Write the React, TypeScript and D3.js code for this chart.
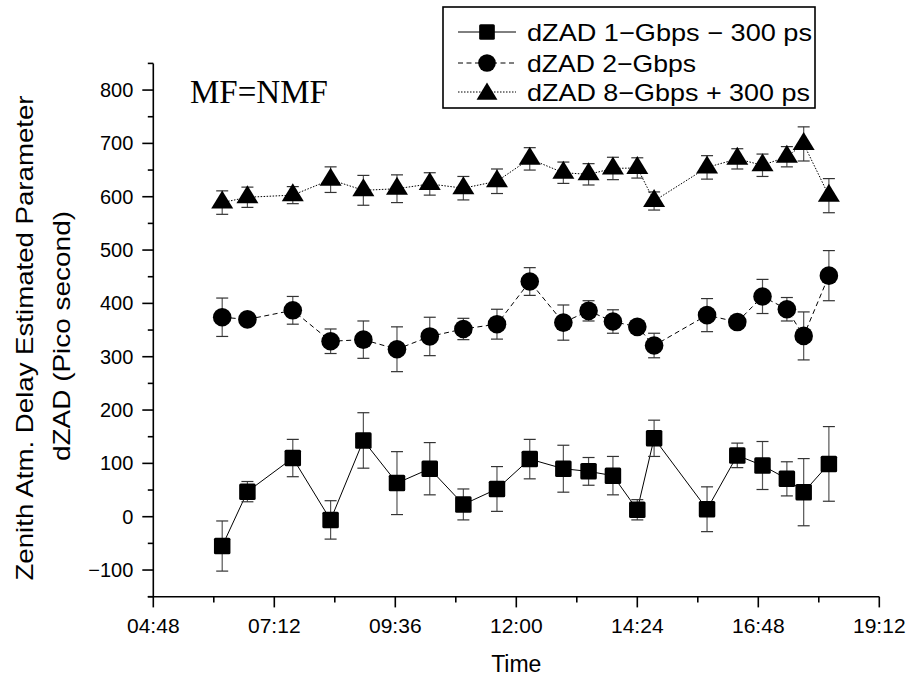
import React from "react";
import * as d3 from "d3";

// ---- Data ----
const times = ["06:10","06:40","07:34","08:19","08:58","09:38","10:17","10:57","11:37","12:16","12:56","13:26","13:55","14:24","14:44","15:47","16:23","16:53","17:22","17:42","18:12"];
const s1Values = [-55, 47, 110, -6, 143, 63, 90, 23, 52, 108, 90, 85, 77, 13, 147, 14, 115, 96, 71, 46, 99];
const s1Errors = [47, 19, 35, 36, 52, 59, 49, 29, 42, 37, 44, 26, 36, 19, 34, 42, 23, 45, 32, 63, 70];
const s2Values = [374, 370, 387, 329, 332, 314, 338, 352, 361, 441, 364, 386, 366, 356, 321, 378, 365, 413, 389, 339, 452];
const s2Errors = [36, 6, 26, 23, 35, 42, 36, 20, 28, 26, 33, 19, 22, 6, 23, 31, 8, 32, 22, 45, 47];
const s3Values = [589, 599, 603, 632, 612, 615, 624, 616, 629, 671, 645, 642, 653, 654, 592, 655, 671, 659, 675, 699, 602];
const s3Errors = [22, 19, 16, 24, 28, 26, 21, 22, 23, 21, 20, 20, 21, 19, 17, 22, 19, 21, 19, 32, 32];
const seriesNames = ["dZAD 1\u2212Gbps \u2212 300 ps", "dZAD 2\u2212Gbps", "dZAD 8\u2212Gbps + 300 ps"];
const xTickLabels = ["04:48","07:12","09:36","12:00","14:24","16:48","19:12"];
const yTickValues = [-100, 0, 100, 200, 300, 400, 500, 600, 700, 800];
const yDomain = [-150, 850];
const annotation = "MF=NMF";
const xTitle = "Time";
const yTitle1 = "Zenith Atm. Delay Estimated Parameter";
const yTitle2 = "dZAD (Pico second)";

const parse = d3.timeParse("%H:%M");
const FONT = "'Liberation Sans', Arial, sans-serif";

export default function App() {
  const W = 908, H = 677;
  const xTicks = xTickLabels.map((t) => parse(t) as Date);
  const x = d3.scaleTime().domain([xTicks[0], xTicks[xTicks.length - 1]]).range([153.3, 879.3]);
  const y = d3.scaleLinear().domain(yDomain).range([596.7, 63.4]);
  const xMinor = xTicks.slice(1).map((d, i) => new Date((d.getTime() + xTicks[i].getTime()) / 2));
  const yMinor = d3.range(yDomain[0], yDomain[1] + 1, 50).filter((v) => v % 100 !== 0);

  const dates = times.map((t) => parse(t) as Date);
  const series = [
    { values: s1Values, errors: s1Errors, dash: "none", shape: "square" },
    { values: s2Values, errors: s2Errors, dash: "5 3.5", shape: "circle" },
    { values: s3Values, errors: s3Errors, dash: "1.5 1.5", shape: "triangle" },
  ];

  const line = d3.line<[Date, number]>().x((d) => x(d[0])).y((d) => y(d[1]));

  const marker = (shape: string, cx: number, cy: number, key: any, scale = 1) => {
    if (shape === "square") {
      const s = 16.5 * scale;
      return <rect key={key} x={cx - s / 2} y={cy - s / 2} width={s} height={s} rx={1.5} fill="#000" />;
    }
    if (shape === "circle") {
      return <circle key={key} cx={cx} cy={cy} r={9.3 * scale} fill="#000" />;
    }
    const w = 22 * scale, h = 18 * scale;
    // centroid-centred triangle
    const top = cy - (2 / 3) * h, bot = cy + h / 3;
    return <path key={key} d={`M${cx},${top}L${cx + w / 2},${bot}L${cx - w / 2},${bot}Z`} fill="#000" />;
  };

  const legendRows = [32, 63, 92];
  const legendTextLen = [285, 169, 283];

  return (
    <svg width={W} height={H} style={{ position: "absolute", left: 0, top: 0, background: "#fff" }}>
      <rect x={0} y={0} width={W} height={H} fill="#fff" />
      {/* series lines */}
      {series.map((s, si) => (
        <path key={"l" + si} d={line(dates.map((d, i) => [d, s.values[i]]) as any) || ""} fill="none" stroke="#000" strokeWidth={1} strokeDasharray={s.dash} />
      ))}
      {/* error bars */}
      {series.map((s, si) =>
        dates.map((d, i) => {
          const cx = x(d), y1 = y(s.values[i] + s.errors[i]), y2 = y(s.values[i] - s.errors[i]);
          return (
            <g key={"e" + si + "-" + i} stroke="#333" strokeWidth={1.2}>
              <line x1={cx} x2={cx} y1={y1} y2={y2} stroke="#555" />
              <line x1={cx - 6} x2={cx + 6} y1={y1} y2={y1} />
              <line x1={cx - 6} x2={cx + 6} y1={y2} y2={y2} />
            </g>
          );
        })
      )}
      {/* markers */}
      {series.map((s, si) => dates.map((d, i) => marker(s.shape, x(d), y(s.values[i]), "m" + si + "-" + i)))}

      {/* axes */}
      <g stroke="#000" strokeWidth={1.6}>
        <line x1={x.range()[0]} x2={x.range()[0]} y1={y(yDomain[0])} y2={y(yDomain[1])} />
        <line x1={x.range()[0] - 5.5} x2={x.range()[1]} y1={y(yDomain[0])} y2={y(yDomain[0])} />
        {yTickValues.map((v) => (
          <line key={"yt" + v} x1={x.range()[0] - 11} x2={x.range()[0]} y1={y(v)} y2={y(v)} />
        ))}
        {yMinor.map((v) => (
          <line key={"ym" + v} x1={x.range()[0] - 5.5} x2={x.range()[0]} y1={y(v)} y2={y(v)} />
        ))}
        {xTicks.map((d, i) => (
          <line key={"xt" + i} x1={x(d)} x2={x(d)} y1={y(yDomain[0])} y2={y(yDomain[0]) + 10.7} />
        ))}
        {xMinor.map((d, i) => (
          <line key={"xm" + i} x1={x(d)} x2={x(d)} y1={y(yDomain[0])} y2={y(yDomain[0]) + 5.7} />
        ))}
      </g>
      <g fontFamily={FONT} fontSize={20} fill="#000">
        {yTickValues.map((v) => (
          <text key={"yl" + v} x={x.range()[0] - 20} y={y(v)} dy="0.35em" textAnchor="end">
            {v < 0 ? "\u2212" + Math.abs(v) : String(v)}
          </text>
        ))}
        {xTicks.map((d, i) => (
          <text key={"xl" + i} x={x(d)} y={633} fontSize={21} textAnchor="middle">
            {xTickLabels[i]}
          </text>
        ))}
      </g>
      <text x={(x.range()[0] + x.range()[1]) / 2} y={672} fontFamily={FONT} fontSize={23} textAnchor="middle">{xTitle}</text>
      <text transform="translate(25,338) rotate(-90)" fontFamily={FONT} fontSize={24} textAnchor="middle" dy="0.35em" textLength={485} lengthAdjust="spacingAndGlyphs">{yTitle1}</text>
      <text transform="translate(62,336) rotate(-90)" fontFamily={FONT} fontSize={24} textAnchor="middle" dy="0.35em" textLength={250} lengthAdjust="spacingAndGlyphs">{yTitle2}</text>

      <text x={190} y={103} fontFamily="'Liberation Serif', 'Times New Roman', serif" fontSize={33}>{annotation}</text>

      {/* legend */}
      <rect x={443} y={7} width={372} height={101} fill="#fff" stroke="#000" strokeWidth={1.6} />
      {series.map((s, si) => (
        <g key={"lg" + si}>
          <line x1={458} x2={516} y1={legendRows[si]} y2={legendRows[si]} stroke="#000" strokeWidth={1} strokeDasharray={s.dash} />
          {marker(s.shape, 487, legendRows[si] + (s.shape === "triangle" ? 2 : 0), "lm" + si, 0.95)}
          <text x={527} y={legendRows[si] + 8.5} fontFamily={FONT} fontSize={24} textLength={legendTextLen[si]} lengthAdjust="spacingAndGlyphs">
            {seriesNames[si]}
          </text>
        </g>
      ))}
    </svg>
  );
}
